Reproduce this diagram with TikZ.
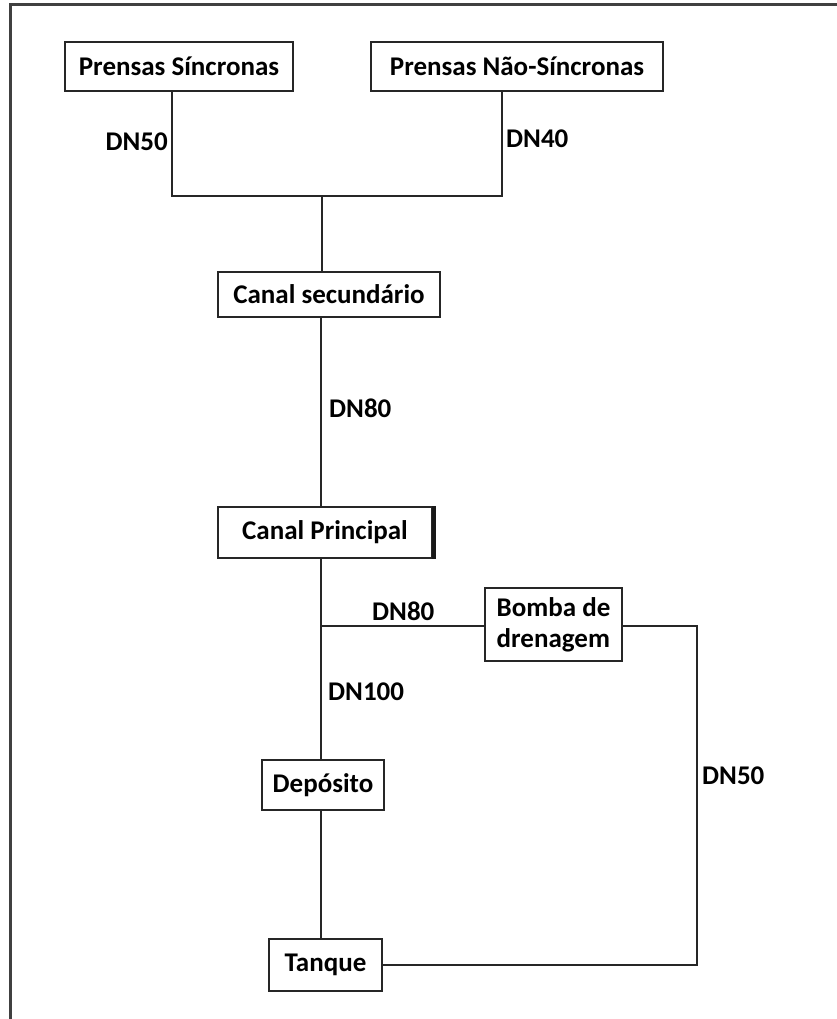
\documentclass[tikz,border=0pt]{standalone}
\usepackage{fontspec}
\setmainfont{Carlito}
\begin{document}
\begin{tikzpicture}[x=1pt,y=-1pt,
  box/.style={draw=black!85,line width=2pt,inner sep=0pt,font=\fontsize{27}{31}\selectfont\bfseries},
  lbl/.style={inner sep=0pt,font=\fontsize{27}{31}\selectfont\bfseries},
  pipe/.style={draw=black!85,line width=2pt}]
\useasboundingbox (0,0) rectangle (837,1019);
% frame edges
\draw[line width=3pt,black!75] (10,1019) -- (10,5) -- (837,5);

% boxes
\node[box,minimum width=228pt,minimum height=49pt] (ps) at (179,66.5) {Prensas Síncronas};
\node[box,minimum width=292pt,minimum height=49pt] (pn) at (517,66.5) {Prensas Não-Síncronas};
\node[box,minimum width=222pt,minimum height=45pt] (cs) at (329,294.5) {Canal secundário};
\node[box,minimum width=214pt,minimum height=51pt] (cp) at (325,532.5) {Canal Principal};
\node[box,minimum width=137pt,minimum height=73pt,align=left] (bd) at (553.5,624.5) {Bomba de\\drenagem};
\node[box,minimum width=122pt,minimum height=50pt] (dp) at (323,785) {Depósito};
\node[box,minimum width=113pt,minimum height=52pt] (tq) at (325.5,965) {Tanque};

% heavier right edge of the main channel box
\draw[line width=3.5pt,black!90] ([xshift=1pt]cp.north east) -- ([xshift=1pt]cp.south east);

% junction points
\coordinate (top) at (322,196);
\coordinate (tee) at (321,626);
\coordinate (rc) at (697,626);

% connectors
\draw[pipe] ([xshift=-7pt]ps.south) |- (top);
\draw[pipe] ([xshift=-15pt]pn.south) |- (top);
\draw[pipe] (top) -- (top |- cs.north);
\draw[pipe] (cs.south -| tee) -- (cp.north -| tee);
\draw[pipe] (cp.south -| tee) -- (dp.north -| tee);
\draw[pipe] (tee) -- (bd.west |- tee);
\draw[pipe] (dp.south -| tee) -- (tq.north -| tee);
\draw[pipe] (bd.east |- rc) -- (rc) |- (tq.east);

% pipe sizes
\node[lbl,anchor=east] (l1) at (168,142) {DN50};
\node[lbl,anchor=west] (l2) at (506,139) {DN40};
\node[lbl,anchor=west] (l3) at (329,408) {DN80};
\node[lbl,anchor=west] (l4) at (372,611) {DN80};
\node[lbl,anchor=west] (l5) at (328,692) {DN100};
\node[lbl,anchor=west] (l6) at (702,776) {DN50};
\end{tikzpicture}
\end{document}
